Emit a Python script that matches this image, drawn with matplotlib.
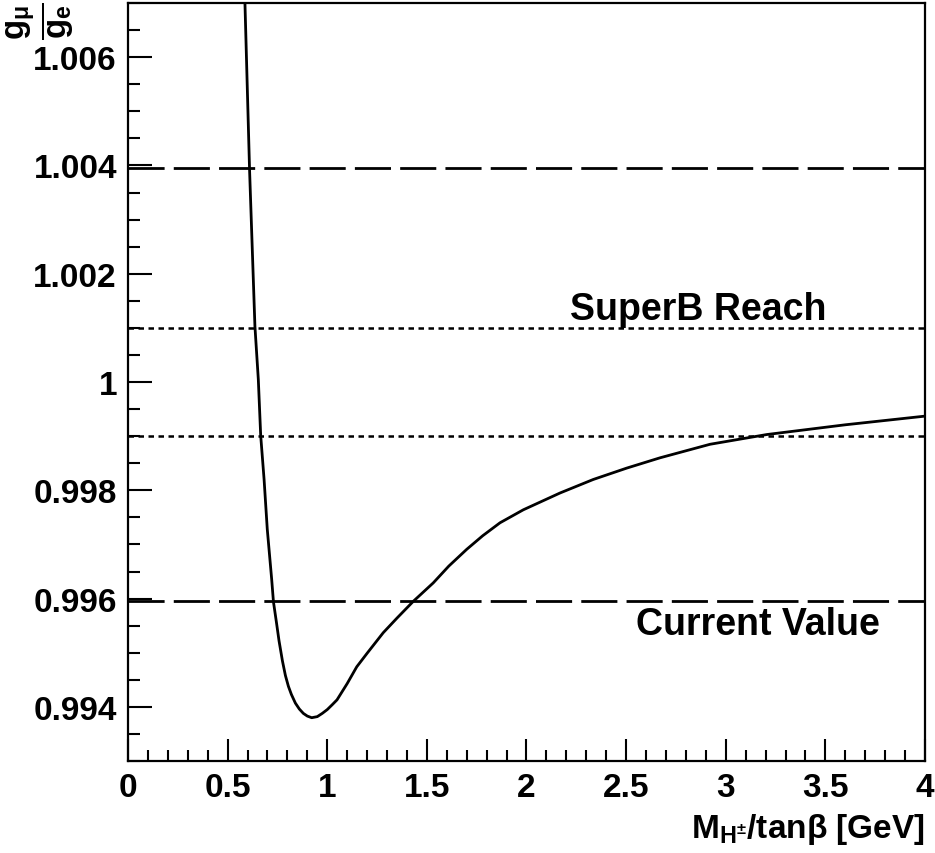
import matplotlib
matplotlib.use("Agg")
import matplotlib.pyplot as plt
from matplotlib.ticker import MultipleLocator

plt.rcParams["font.family"] = "Liberation Sans"
plt.rcParams["font.weight"] = "bold"
plt.rcParams["mathtext.fontset"] = "custom"
plt.rcParams["mathtext.rm"] = "Liberation Sans:bold"
plt.rcParams["mathtext.bf"] = "Liberation Sans:bold"
plt.rcParams["mathtext.it"] = "Liberation Sans:bold"

# curve: M_H/tanb [GeV] vs g_mu/g_e
mh_tanb = [0.587, 0.610, 0.637, 0.654, 0.666, 0.683, 0.699, 0.721, 0.730,
           0.745, 0.758, 0.775, 0.790, 0.805, 0.820, 0.840, 0.860, 0.880,
           0.900, 0.922, 0.950, 0.975, 1.000, 1.025, 1.049, 1.100, 1.148,
           1.200, 1.281, 1.350, 1.432, 1.532, 1.610, 1.700, 1.780, 1.867,
           1.984, 2.168, 2.335, 2.503, 2.670, 2.921, 3.206, 3.600, 4.000]
g_ratio = [1.00699, 1.00393, 1.00103, 1.00005, 0.99901, 0.99820, 0.99728,
           0.99636, 0.99594, 0.99556, 0.99522, 0.99485, 0.99458, 0.99438,
           0.99423, 0.99407, 0.99396, 0.99388, 0.99383, 0.99380, 0.99382,
           0.99388, 0.99395, 0.99404, 0.99413, 0.99443, 0.99474, 0.99499,
           0.99537, 0.99564, 0.99595, 0.99629, 0.99660, 0.99691, 0.99716,
           0.99740, 0.99764, 0.99795, 0.99820, 0.99841, 0.99860, 0.99885,
           0.99903, 0.99921, 0.99937]

# reference bands
current_value = [1.00395, 0.99595]
superb_reach = [1.001, 0.999]

fig = plt.figure(figsize=(9.35, 8.54), dpi=100)
ax = fig.add_axes([0.1369, 0.1077, 0.8524, 0.8876])

ax.plot(mh_tanb, g_ratio, color="black", lw=2.0, solid_joinstyle="round")

for y in current_value:
    ax.axhline(y, color="black", lw=2.0, dashes=(13, 3.3))
for y in superb_reach:
    ax.axhline(y, color="black", lw=1.8, dashes=(2.2, 1.8))

ax.text(2.218, 1.00116, "SuperB Reach", fontsize=27, fontweight="bold",
        ha="left", va="baseline")
ax.text(2.55, 0.99534, "Current Value", fontsize=27, fontweight="bold",
        ha="left", va="baseline")

ax.set_xlim(0, 4)
ax.set_ylim(0.993, 1.007)
ax.xaxis.set_major_locator(MultipleLocator(0.5))
ax.xaxis.set_minor_locator(MultipleLocator(0.1))
ax.yaxis.set_major_locator(MultipleLocator(0.002))
ax.yaxis.set_minor_locator(MultipleLocator(0.0005))

ax.set_xticks([0, 0.5, 1, 1.5, 2, 2.5, 3, 3.5, 4])
ax.set_xticklabels(["0", "0.5", "1", "1.5", "2", "2.5", "3", "3.5", "4"])
ax.set_yticks([0.994, 0.996, 0.998, 1.0, 1.002, 1.004, 1.006])
ax.set_yticklabels(["0.994", "0.996", "0.998", "1", "1.002", "1.004", "1.006"])

ax.tick_params(which="both", direction="in", top=False, right=False,
               labelsize=24, width=1.5)
ax.tick_params(axis="y", which="major", length=17, pad=8)
ax.tick_params(axis="y", which="minor", length=8.5)
ax.tick_params(axis="x", which="major", length=16, pad=8)
ax.tick_params(axis="x", which="minor", length=8)
for lab in ax.get_xticklabels() + ax.get_yticklabels():
    lab.set_fontweight("bold")
for s in ax.spines.values():
    s.set_linewidth(1.6)

ax.set_xlabel(r"M$_{\mathrm{H}^{\pm}}$/tan$\beta$ [GeV]", fontsize=24,
              fontweight="bold", loc="right", labelpad=6)
fig.text(0.004, 0.997, r"$\frac{g_{\mu}}{g_{e}}$", fontsize=34, rotation=90,
         ha="left", va="top")

fig.savefig("out.png", dpi=100)
